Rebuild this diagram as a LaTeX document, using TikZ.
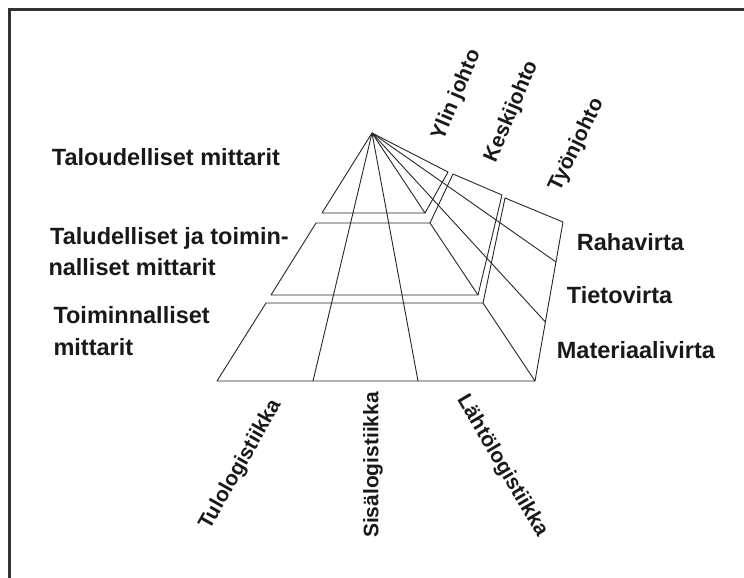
\documentclass[tikz,border=0pt]{standalone}
\usepackage{fontspec}
\setmainfont{Liberation Sans}
\begin{document}
\begin{tikzpicture}[x=1pt,y=-1pt,
  ln/.style={line width=0.9pt, draw=black!85, line join=round},
  frame/.style={line width=2.6pt, draw=black!80},
  big/.style={font=\bfseries\fontsize{23.5}{28}\selectfont, inner sep=0pt, anchor=base west, text=black!90},
  small/.style={font=\bfseries\fontsize{21}{25}\selectfont, inner sep=0pt, text=black!90}]
\useasboundingbox (0,0) rectangle (744,578);
\draw[frame] (9.5,578) -- (9.5,9.5) -- (744,9.5);

% apex and tiers
\coordinate (A) at (372,133);
\coordinate (t1l) at (322,213);
\coordinate (t1r) at (425,213);
\coordinate (s1t) at (448,172);
\coordinate (t2tl) at (316,223);
\coordinate (t2tr) at (430,223);
\coordinate (t2bl) at (271,295);
\coordinate (t2br) at (478,295);
\coordinate (s2a) at (453,174);
\coordinate (s2b) at (502,195);
\coordinate (t3tl) at (266,303);
\coordinate (t3tr) at (483,303);
\coordinate (t3bl) at (217,381);
\coordinate (t3br) at (535,381);
\coordinate (s3a) at (505,198);
\coordinate (s3b) at (563,222);
\coordinate (d1) at (313,381);
\coordinate (d2) at (418,381);
\coordinate (f1) at (556,262);
\coordinate (f2) at (545.4,322);

\draw[ln] (A) -- (t1l) -- (t1r) -- cycle;
\draw[ln] (A) -- (s1t) -- (t1r);
\draw[ln] (t2tl) -- (t2tr) -- (t2br) -- (t2bl) -- cycle;
\draw[ln] (t2tr) -- (s2a) -- (s2b) -- (t2br);
\draw[ln] (t3tl) -- (t3tr) -- (t3br) -- (t3bl) -- cycle;
\draw[ln] (t3tr) -- (s3a) -- (s3b) -- (t3br);
\draw[ln] (A) -- (d1);
\draw[ln] (A) -- (d2);
\draw[ln] (A) -- (f1);
\draw[ln] (A) -- (f2);

% left labels
\node[big] (l1) at (51.7,165) {Taloudelliset mittarit};
\node[big] (l2a) at (50,244) {Taludelliset ja toimin-};
\node[big] (l2b) at (48.3,275.7) {nalliset mittarit};
\node[big] (l3a) at (53.3,323.3) {Toiminnalliset};
\node[big] (l3b) at (53.3,355) {mittarit};

% right labels
\node[big] (r1) at (576.7,250) {Rahavirta};
\node[big] (r2) at (566.7,303.3) {Tietovirta};
\node[big] (r3) at (556.7,358.3) {Materiaalivirta};

% top rotated labels
\node[small, rotate=67] (m1) at (456.7,95) {Ylin johto};
\node[small, rotate=67] (m2) at (511.7,111.7) {Keskijohto};
\node[small, rotate=64] (m3) at (576.7,145) {Työnjohto};

% bottom rotated labels
\node[small, rotate=60.5] (b1) at (240.7,465) {Tulologistiikka};
\node[small, rotate=90] (b2) at (373,465) {Sisälogistiikka};
\node[small, rotate=-59.5] (b3) at (502,466) {Lähtölogistiikka};
\end{tikzpicture}
\end{document}
